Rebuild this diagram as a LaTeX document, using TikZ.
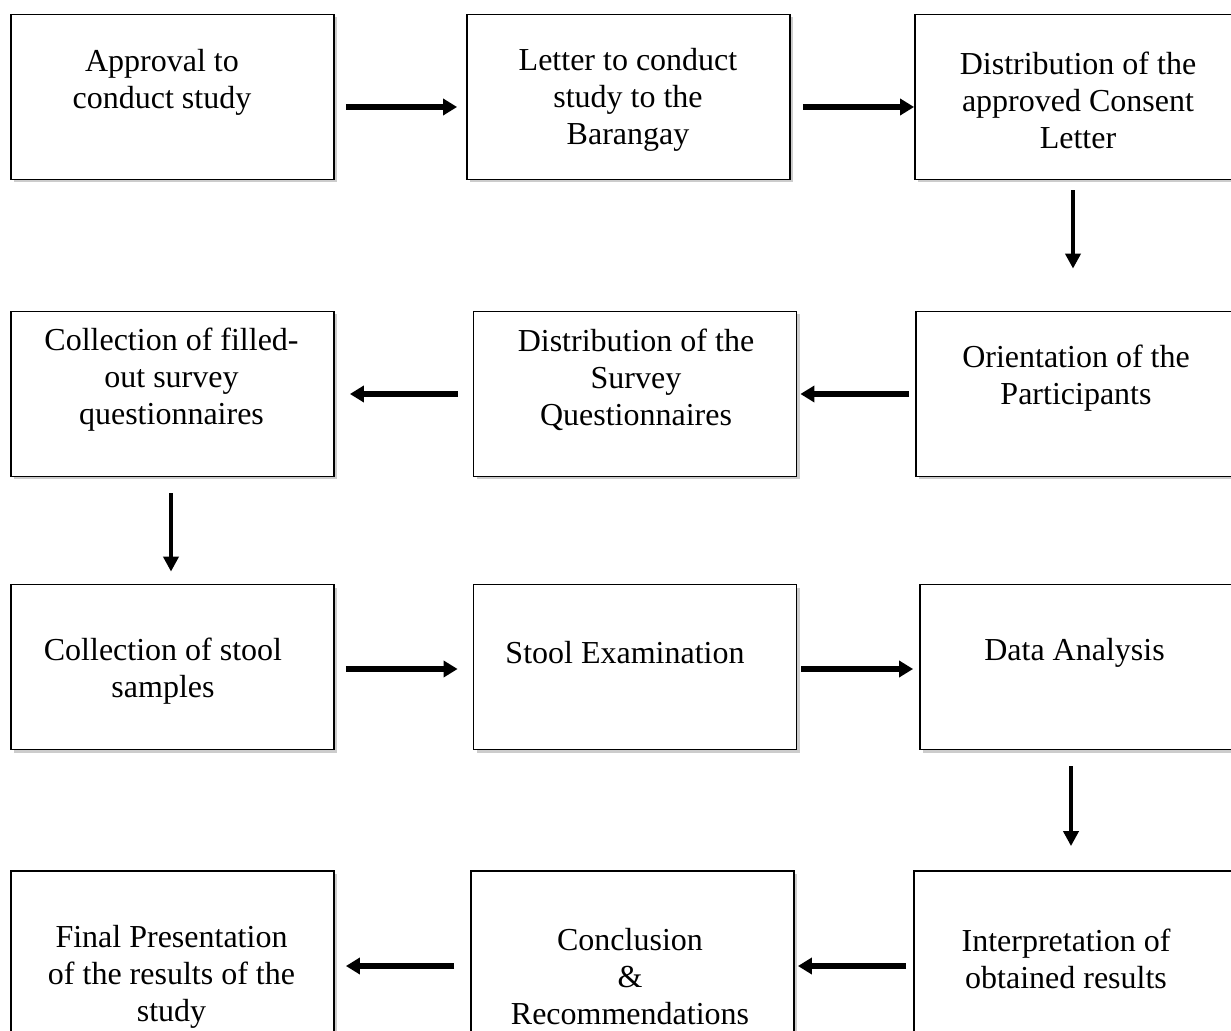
\documentclass[tikz,border=0pt]{standalone}
\usepackage{fontspec}
\setmainfont{Liberation Serif}
\usetikzlibrary{arrows.meta,shadows}

\tikzset{
  stepbox/.style={draw=black, line width=0.9pt, fill=white, minimum width=161.5pt, minimum height=82.5pt, inner sep=0pt,
    drop shadow={shadow xshift=1.5pt, shadow yshift=-1.5pt, opacity=0.4}},
  steptext/.style={align=center, inner sep=0pt, font=\fontsize{16pt}{18.5pt}\selectfont},
  hflow/.style={line width=2.8pt, -{Triangle[length=7pt,width=8pt]}},
  vflow/.style={line width=2.2pt, -{Triangle[length=7.5pt,width=7.5pt]}}
}

\begin{document}
\begin{tikzpicture}[x=0.5pt,y=-0.5pt]
\useasboundingbox (0,0) rectangle (1231,1031);
\clip (0,0) rectangle (1231,1031);

%Row 1
\node[stepbox] (approval) at (172.5,97) {};
\node[stepbox] (letter) at (628.5,97) {};
\node[stepbox] (consent) at (1076.5,97) {};
\node[steptext] (approvaltxt) at (162,82.5) {Approval to\\conduct study};
\node[steptext] (lettertxt) at (628,100) {Letter to conduct\\study to the\\Barangay};
\node[steptext] (consenttxt) at (1078,100) {Distribution of the\\approved Consent\\Letter};

%Row 2
\node[stepbox] (filled) at (172.5,394) {};
\node[stepbox] (survey) at (635,394) {};
\node[stepbox] (orient) at (1077.5,394) {};
\node[steptext] (filledtxt) at (171.5,380) {Collection of filled-\\out survey\\questionnaires};
\node[steptext] (surveytxt) at (636,380) {Distribution of the\\Survey\\Questionnaires};
\node[steptext] (orienttxt) at (1076,378.5) {Orientation of the\\Participants};

%Row 3
\node[stepbox] (stool) at (172.5,667) {};
\node[stepbox] (exam) at (635,667) {};
\node[stepbox] (analysis) at (1081.5,667) {};
\node[steptext] (stooltxt) at (163,671) {Collection of stool\\samples};
\node[steptext] (examtxt) at (625,653) {Stool Examination};
\node[steptext] (analysistxt) at (1074.5,653) {Data Analysis};

%Row 4
\node[stepbox] (final) at (172.5,953.5) {};
\node[stepbox] (concl) at (632.5,953.5) {};
\node[stepbox] (interp) at (1075.5,953.5) {};
\node[steptext] (finaltxt) at (171.5,977) {Final Presentation\\of the results of the\\study};
\node[steptext] (concltxt) at (630,977) {Conclusion\\\&\\Recommendations};
\node[steptext] (interptxt) at (1066,958.5) {Interpretation of\\obtained results};

%Arrows
\draw[hflow, shorten <=5.5pt, shorten >=4.5pt] ([yshift=-5pt]approval.east) -- ([yshift=-5pt]approval.east -| letter.west);
\draw[hflow, shorten <=6pt] ([yshift=-5pt]letter.east) -- ([yshift=-5pt]letter.east -| consent.west);
\draw[vflow, shorten <=5pt, shorten >=21pt] ([xshift=-1.75pt]consent.south) -- ([xshift=-1.75pt]consent.south |- orient.north);
\draw[hflow, shorten <=3pt, shorten >=1.5pt] (orient.west) -- (orient.west -| survey.east);
\draw[hflow, shorten <=7.5pt, shorten >=7.5pt] (survey.west) -- (survey.west -| filled.east);
\draw[vflow, shorten <=8pt, shorten >=6pt] ([xshift=-0.75pt]filled.south) -- ([xshift=-0.75pt]filled.south |- stool.north);
\draw[hflow, shorten <=5.5pt, shorten >=7.5pt] ([yshift=-1pt]stool.east) -- ([yshift=-1pt]stool.east -| exam.west);
\draw[hflow, shorten <=2pt, shorten >=3pt] ([yshift=-1pt]exam.east) -- ([yshift=-1pt]exam.east -| analysis.west);
\draw[vflow, shorten <=8pt, shorten >=12pt] ([xshift=-5.25pt]analysis.south) -- ([xshift=-5.25pt]analysis.south |- interp.north);
\draw[hflow, shorten <=3.5pt, shorten >=1.5pt] ([yshift=-6.25pt]interp.west) -- ([yshift=-6.25pt]interp.west -| concl.east);
\draw[hflow, shorten <=8pt, shorten >=5.5pt] ([yshift=-6.25pt]concl.west) -- ([yshift=-6.25pt]concl.west -| final.east);

\end{tikzpicture}
\end{document}
